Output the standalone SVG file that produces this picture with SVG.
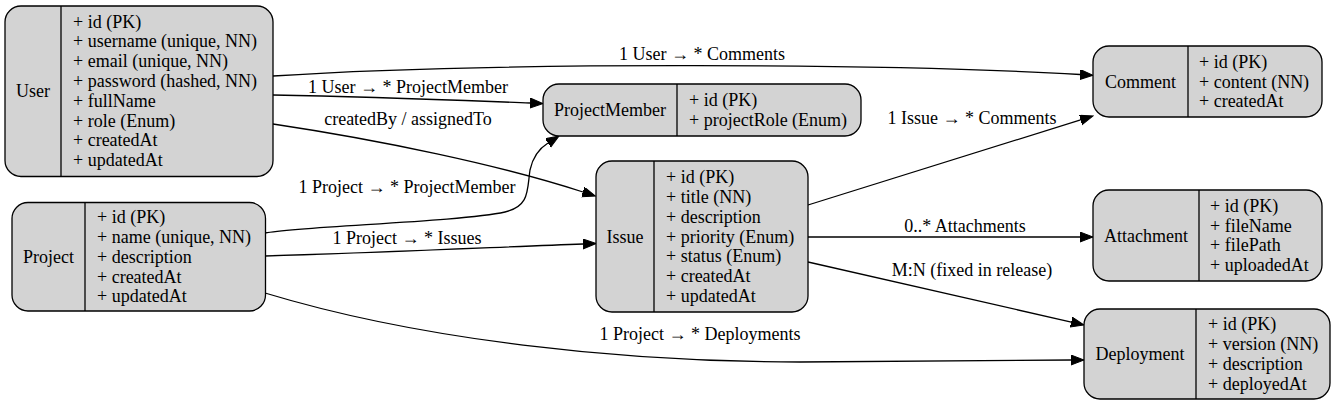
<svg xmlns="http://www.w3.org/2000/svg" width="1336" height="405" viewBox="0 0 1336 405">
<style>
  .box { fill: #d3d3d3; stroke: #000; stroke-width: 1.3; }
  .div { stroke: #000; stroke-width: 1.3; }
  text { font-family: "Liberation Serif", "Times New Roman", serif; font-size: 18px; fill: #000; }
  .c { text-anchor: middle; }
  .edge { fill: none; stroke: #000; stroke-width: 1.3; marker-end: url(#arr); }
</style>
<defs>
  <marker id="arr" markerUnits="userSpaceOnUse" markerWidth="14" markerHeight="11" refX="0" refY="5" orient="auto">
    <path d="M0,0 L13,5 L0,10 z" fill="#000" stroke="#000" stroke-width="1"/>
  </marker>
</defs>
<rect width="1336" height="405" fill="#fff"/>

<g id="edges">
  <path class="edge" d="M273,76 C500,61 900,64 1080,74.5"/>
  <path class="edge" d="M273,95 C380,97 450,100 530,103"/>
  <path class="edge" d="M273,124 C380,140 500,165 583,192"/>
  <path class="edge" d="M265,233 C300,226 460,222 505,212 C530,206 527,190 530,170 C533,156 540,148 548,143"/>
  <path class="edge" d="M265,256 C400,252 500,247 583,244"/>
  <path class="edge" d="M265,293 C420,340 620,362 800,362 C900,362 1000,360 1071,360"/>
  <path class="edge" d="M808,205 L1080.6,119.9"/>
  <path class="edge" d="M808,237 L1080,237"/>
  <path class="edge" d="M808,262 L1071.3,322.1"/>
  <text class="c" x="702" y="60">1 User → * Comments</text>
  <text class="c" x="408" y="93">1 User → * ProjectMember</text>
  <text class="c" x="408" y="125">createdBy / assignedTo</text>
  <text class="c" x="407" y="193">1 Project → * ProjectMember</text>
  <text class="c" x="407" y="244">1 Project → * Issues</text>
  <text class="c" x="700" y="340">1 Project → * Deployments</text>
  <text class="c" x="972" y="124">1 Issue → * Comments</text>
  <text class="c" x="965" y="232">0..* Attachments</text>
  <text class="c" x="972" y="276">M:N (fixed in release)</text>
</g>

<g id="User">
  <rect class="box" x="5" y="6" width="268" height="170.5" rx="16"/>
  <line class="div" x1="61" y1="6" x2="61" y2="176.5"/>
  <text class="c" x="33" y="97">User</text>
  <text x="73" y="27.6">+ id (PK)</text>
  <text x="73" y="47.4">+ username (unique, NN)</text>
  <text x="73" y="67.2">+ email (unique, NN)</text>
  <text x="73" y="87">+ password (hashed, NN)</text>
  <text x="73" y="106.8">+ fullName</text>
  <text x="73" y="126.6">+ role (Enum)</text>
  <text x="73" y="146.4">+ createdAt</text>
  <text x="73" y="166.2">+ updatedAt</text>
</g>

<g id="Project">
  <rect class="box" x="12" y="202.5" width="253.5" height="108.5" rx="16"/>
  <line class="div" x1="85" y1="202.5" x2="85" y2="311"/>
  <text class="c" x="48.5" y="263">Project</text>
  <text x="97" y="223.1">+ id (PK)</text>
  <text x="97" y="242.9">+ name (unique, NN)</text>
  <text x="97" y="262.7">+ description</text>
  <text x="97" y="282.5">+ createdAt</text>
  <text x="97" y="302.3">+ updatedAt</text>
</g>

<g id="ProjectMember">
  <rect class="box" x="543" y="84" width="318" height="52" rx="16"/>
  <line class="div" x1="677" y1="84" x2="677" y2="136"/>
  <text class="c" x="610" y="116">ProjectMember</text>
  <text x="689" y="106.1">+ id (PK)</text>
  <text x="689" y="125.9">+ projectRole (Enum)</text>
</g>

<g id="Issue">
  <rect class="box" x="596" y="161" width="212" height="151" rx="16"/>
  <line class="div" x1="654" y1="161" x2="654" y2="312"/>
  <text class="c" x="625" y="242.5">Issue</text>
  <text x="666" y="183.1">+ id (PK)</text>
  <text x="666" y="202.9">+ title (NN)</text>
  <text x="666" y="222.7">+ description</text>
  <text x="666" y="242.5">+ priority (Enum)</text>
  <text x="666" y="262.3">+ status (Enum)</text>
  <text x="666" y="282.1">+ createdAt</text>
  <text x="666" y="301.9">+ updatedAt</text>
</g>

<g id="Comment">
  <rect class="box" x="1093" y="46" width="229" height="71" rx="16"/>
  <line class="div" x1="1188" y1="46" x2="1188" y2="117"/>
  <text class="c" x="1140.5" y="87.5">Comment</text>
  <text x="1199" y="67.7">+ id (PK)</text>
  <text x="1199" y="87.5">+ content (NN)</text>
  <text x="1199" y="107.3">+ createdAt</text>
</g>

<g id="Attachment">
  <rect class="box" x="1093" y="190" width="229" height="91" rx="16"/>
  <line class="div" x1="1199" y1="190" x2="1199" y2="281"/>
  <text class="c" x="1146" y="241.5">Attachment</text>
  <text x="1210" y="211.8">+ id (PK)</text>
  <text x="1210" y="231.6">+ fileName</text>
  <text x="1210" y="251.4">+ filePath</text>
  <text x="1210" y="271.2">+ uploadedAt</text>
</g>

<g id="Deployment">
  <rect class="box" x="1084" y="309" width="246" height="90" rx="16"/>
  <line class="div" x1="1196" y1="309" x2="1196" y2="399"/>
  <text class="c" x="1140" y="360">Deployment</text>
  <text x="1208" y="330.3">+ id (PK)</text>
  <text x="1208" y="350.1">+ version (NN)</text>
  <text x="1208" y="369.9">+ description</text>
  <text x="1208" y="389.7">+ deployedAt</text>
</g>
</svg>
